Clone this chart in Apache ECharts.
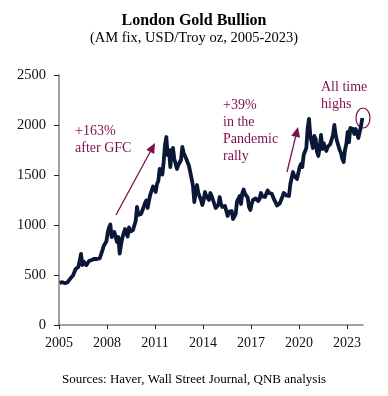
<!DOCTYPE html>
<html>
<head>
<meta charset="utf-8">
<script src="https://cdn.jsdelivr.net/npm/echarts@6/dist/echarts.min.js"></script>
<style>html,body{margin:0;padding:0;background:#fff}#c{width:388px;height:396px}</style>
</head>
<body>
<div id="c"></div>
<script>
// Monthly gold price (USD/oz), Jan..Dec of each year
const y2005 = [422, 430, 428, 436, 418, 437, 428, 434, 465, 468, 495, 513];
const y2006 = [560, 555, 580, 640, 712, 600, 635, 625, 598, 585, 640, 632];
const y2007 = [650, 665, 662, 680, 660, 650, 665, 672, 743, 790, 800, 834];
const y2008 = [920, 975, 1005, 880, 885, 930, 915, 830, 880, 715, 800, 870];
const y2009 = [920, 960, 915, 885, 975, 935, 950, 950, 995, 1040, 1180, 1100];
const y2010 = [1080, 1110, 1115, 1180, 1220, 1245, 1170, 1245, 1305, 1345, 1385, 1405];
const y2011 = [1330, 1410, 1440, 1560, 1530, 1505, 1630, 1800, 1880, 1700, 1750, 1580];
const y2012 = [1740, 1770, 1660, 1650, 1560, 1600, 1620, 1650, 1780, 1720, 1710, 1660];
const y2013 = [1660, 1590, 1600, 1460, 1390, 1230, 1320, 1400, 1320, 1320, 1250, 1200];
const y2014 = [1250, 1330, 1290, 1290, 1250, 1320, 1290, 1290, 1210, 1170, 1180, 1200];
const y2015 = [1280, 1210, 1180, 1180, 1190, 1170, 1090, 1135, 1115, 1140, 1060, 1055];
const y2016 = [1110, 1235, 1240, 1290, 1210, 1320, 1355, 1310, 1320, 1275, 1180, 1150];
const y2017 = [1210, 1250, 1245, 1265, 1265, 1240, 1265, 1320, 1285, 1270, 1280, 1300];
const y2018 = [1345, 1320, 1325, 1315, 1300, 1250, 1225, 1195, 1190, 1215, 1220, 1280];
const y2019 = [1320, 1320, 1295, 1280, 1290, 1410, 1430, 1530, 1490, 1510, 1460, 1520];
const y2020 = [1580, 1610, 1580, 1700, 1720, 1770, 1970, 2060, 1890, 1880, 1770, 1890];
const y2021 = [1860, 1730, 1690, 1770, 1900, 1760, 1820, 1815, 1740, 1780, 1780, 1810];
const y2022 = [1800, 1900, 2000, 1900, 1840, 1820, 1750, 1720, 1660, 1630, 1750, 1810];
const y2023 = [1930, 1830, 1970, 1990, 1960, 1910, 1960, 1940, 1870, 1850, 1990, 2070];
const startYear = 2005;
const xTicks = [2005, 2008, 2011, 2014, 2017, 2020, 2023];
const yTicks = [0, 500, 1000, 1500, 2000, 2500];

const allYears = [y2005, y2006, y2007, y2008, y2009, y2010, y2011, y2012, y2013, y2014,
  y2015, y2016, y2017, y2018, y2019, y2020, y2021, y2022, y2023];
const seriesData = [];
allYears.forEach((arr, yi) => {
  arr.forEach((v, m) => seriesData.push([startYear + yi + (m + 0.5) / 12, v]));
});

const maroon = '#7d0f4b';
const serif = '"Liberation Serif","Times New Roman",serif';
const chart = echarts.init(document.getElementById('c'), null, {renderer: 'canvas'});

function txt(x, y, s, opts) {
  return Object.assign({
    type: 'text', x: x, y: y,
    style: Object.assign({text: s, fill: maroon, font: '14px ' + serif, textVerticalAlign: 'middle', textAlign: 'left'}, opts || {})
  });
}
function arrow(x1, y1, x2, y2) {
  const dx = x2 - x1, dy = y2 - y1, L = Math.hypot(dx, dy);
  const ux = dx / L, uy = dy / L, hl = 10, hw = 4.5;
  const bx = x2 - ux * hl, by = y2 - uy * hl;
  return [
    {type: 'line', shape: {x1: x1, y1: y1, x2: bx, y2: by}, style: {stroke: maroon, lineWidth: 1.3}},
    {type: 'polygon', shape: {points: [[x2, y2], [bx - uy * hw, by + ux * hw], [bx + uy * hw, by - ux * hw]]}, style: {fill: maroon}}
  ];
}

chart.setOption({
  animation: false,
  grid: {left: 59, right: 25, top: 75, bottom: 71},
  xAxis: {
    type: 'value', min: 2005, max: 2024,
    splitLine: {show: false},
    axisLine: {lineStyle: {color: '#808080', width: 1.5}},
    axisTick: {customValues: xTicks, length: 4, lineStyle: {color: '#222'}},
    axisLabel: {customValues: xTicks, formatter: v => String(v), color: '#111', fontFamily: serif, fontSize: 14, margin: 11}
  },
  yAxis: {
    type: 'value', min: 0, max: 2500,
    splitLine: {show: false},
    axisLine: {show: true, lineStyle: {color: '#808080', width: 1.5}},
    axisTick: {show: true, customValues: yTicks, length: 5, lineStyle: {color: '#222'}},
    axisLabel: {customValues: yTicks, formatter: v => String(v), color: '#111', fontFamily: serif, fontSize: 14.5, margin: 13}
  },
  series: [{
    type: 'line', data: seriesData, showSymbol: false,
    lineStyle: {color: '#0b1737', width: 3.8, join: 'round'}
  }],
  graphic: [
    txt(194, 21, 'London Gold Bullion', {fill: '#000', font: 'bold 16px ' + serif, textAlign: 'center'}),
    txt(194, 38, '(AM fix, USD/Troy oz, 2005-2023)', {fill: '#000', font: '14.5px ' + serif, textAlign: 'center'}),
    txt(194, 380, 'Sources: Haver, Wall Street Journal, QNB analysis', {fill: '#000', font: '13px ' + serif, textAlign: 'center'}),
    txt(75, 131, '+163%'),
    txt(75, 148, 'after GFC'),
    txt(223, 105, '+39%'),
    txt(223, 122, 'in the'),
    txt(223, 139, 'Pandemic'),
    txt(223, 156, 'rally'),
    txt(321, 87, 'All time'),
    txt(321, 104, 'highs'),
    {type: 'ellipse', shape: {cx: 363, cy: 118, rx: 7, ry: 10}, style: {stroke: maroon, fill: 'none', lineWidth: 1.2}}
  ].concat(arrow(116, 215, 155, 143), arrow(287, 172, 298, 127))
});
</script>
</body>
</html>
